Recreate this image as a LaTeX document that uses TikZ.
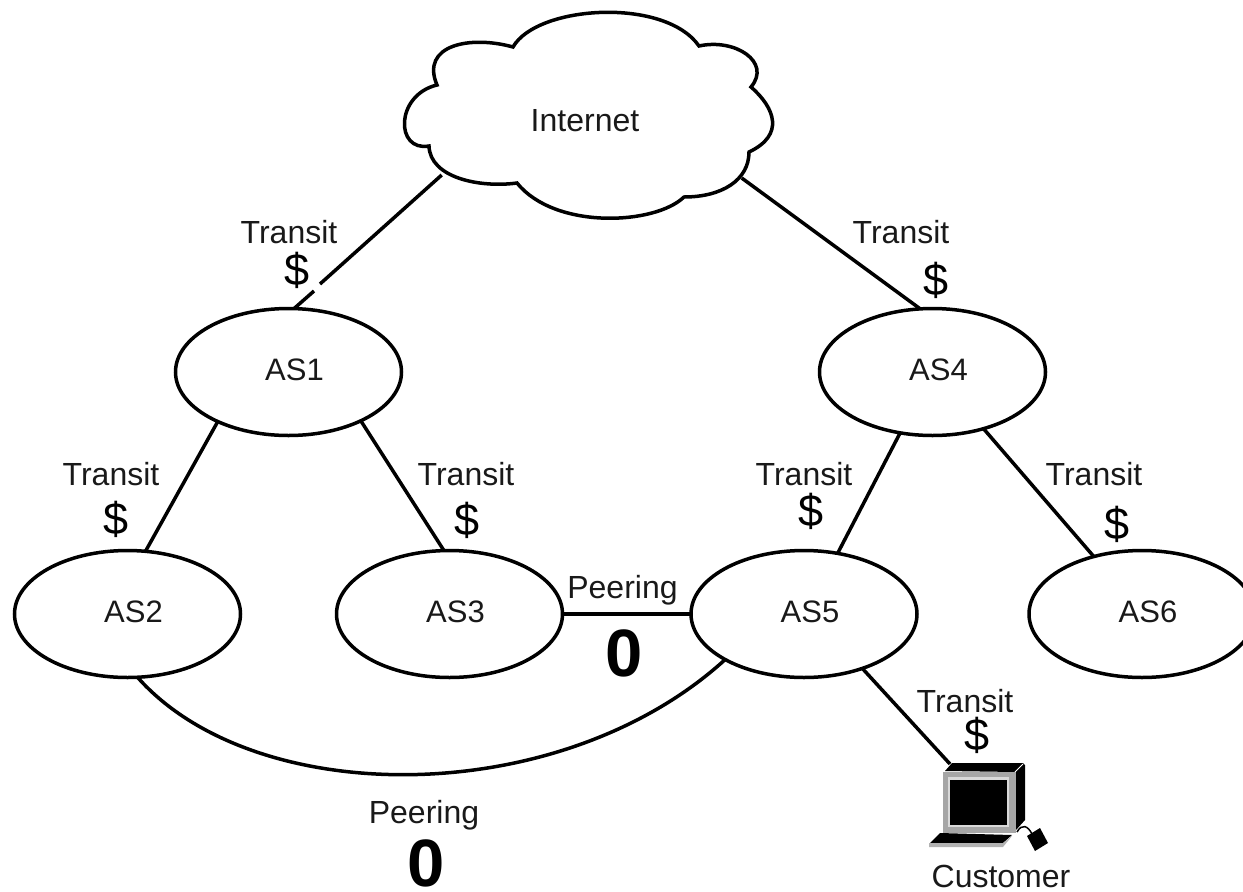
\documentclass[tikz,border=0pt]{standalone}
\usepackage{fontspec}
\setmainfont{Liberation Sans}
\usetikzlibrary{shapes.geometric}
\newcommand{\aslabel}[1]{\hspace*{12pt}\raisebox{2.5pt}[22pt][0pt]{#1}}
\tikzset{
  asnode/.style={ellipse,draw=black,line width=3.5pt,fill=white,minimum width=226pt,minimum height=127pt,inner sep=0pt,outer sep=0pt,text=black!90,font=\fontsize{31}{36}\selectfont},
  link/.style={draw=black,line width=3.5pt},
  lbl/.style={anchor=base,inner sep=0pt,text=black!90,font=\fontsize{32}{36}\selectfont},
  money/.style={anchor=base,inner sep=0pt,font=\fontsize{45}{50}\selectfont},
  zero/.style={anchor=base,inner sep=0pt,font=\fontsize{67}{72}\selectfont\bfseries},
}
\begin{document}
\begin{tikzpicture}[x=1pt,y=-1pt]
\useasboundingbox (0,0) rectangle (1243,892);
% cloud
\draw[line width=3.5pt,line join=miter,fill=white]
 (513,47) .. controls (537,5) and (665,-3) .. (699,46)
 .. controls (735,38) and (772,62) .. (751,87)
 .. controls (775,108) and (785,135) .. (749,152)
 .. controls (749,180) and (722,197) .. (684,197)
 .. controls (655,225) and (555,230) .. (517,183)
 .. controls (480,188) and (430,178) .. (429,146)
 .. controls (395,152) and (395,95) .. (437,85)
 .. controls (420,45) and (470,35) .. (513,47) -- cycle;
\node[lbl] (inet) at (585,131) {Internet};
\coordinate (cloudL) at (441.7,175);
\coordinate (cloudR) at (741.7,178);
\coordinate (gapA) at (320,284);
\coordinate (gapB) at (314,291);
% AS nodes
\node[asnode] (as1) at (288.5,372) {\aslabel{AS1}};
\node[asnode] (as4) at (932.5,372) {\aslabel{AS4}};
\node[asnode] (as2) at (127.5,614) {\aslabel{AS2}};
\node[asnode] (as3) at (449.5,614) {\aslabel{AS3}};
\node[asnode] (as5) at (804,614) {\aslabel{AS5}};
\node[asnode] (as6) at (1142,614) {\aslabel{AS6}};
% connectors
\draw[link] (cloudL) -- (gapA);
\draw[link] (gapB) -- (as1.85);
\draw[link] (cloudR) -- (as4.101);
\draw[link] (as1.215) -- (as2.74);
\draw[link] (as1.-34.4) -- (as3.95.4);
\draw[link] (as4.242.4) -- (as5.61.6);
\draw[link] (as4.-48.7) -- (as6.130.8);
\draw[link] (as3.east) -- (as5.west);
\coordinate (pc) at (950,764);
\draw[link] (as5.-43.5) -- (pc);
\draw[link] (as2.-81) .. controls (255,810) and (560,810) .. (as5.210);
% labels
\node[lbl] (t1) at (289,243) {Transit};
\node[money] (d1) at (297,285) {\$};
\node[lbl] (t2) at (901,243) {Transit};
\node[money] (d2) at (936,295) {\$};
\node[lbl] (t3) at (111,485) {Transit};
\node[money] (d3) at (116,534) {\$};
\node[lbl] (t4) at (466,485) {Transit};
\node[money] (d4) at (467,535) {\$};
\node[lbl] (t5) at (804,485) {Transit};
\node[money] (d5) at (811.5,526) {\$};
\node[lbl] (t6) at (1094,485) {Transit};
\node[money] (d6) at (1117,539) {\$};
\node[lbl] (t7) at (965,712) {Transit};
\node[money] (d7) at (977,750) {\$};
\node[lbl] (p1) at (622.5,598) {Peering};
\node[zero] (z1) at (624.5,676) {0};
\node[lbl] (p2) at (424,823) {Peering};
\node[zero] (z2) at (426,886) {0};
\node[lbl] (cust) at (1001,887) {Customer};
% computer
\fill[black] (945,771) -- (952,763) -- (1023,763) -- (1025,765) -- (1025,820) -- (1016,830) -- (1016,772) -- cycle;
\draw[white,line width=1pt] (1015,772) -- (1023,764);
\fill[black!35] (943,772) rectangle (1016,833);
\fill[white!85!black] (948,777) rectangle (1009,827);
\fill[black] (950,780) rectangle (1007,825);
\fill[black] (930,843) -- (940,833) -- (1012,835) -- (1003,843) -- cycle;
\fill[black!30] (929,843) -- (1003,843) -- (1012,836) -- (1003,847) -- (929,847) -- cycle;
\fill[black] (1027,836) -- (1040,828) -- (1048,843) -- (1035,851) -- cycle;
\draw[black,line width=1.5pt] (1017,832) .. controls (1022,823) and (1028,826) .. (1032,834);
\end{tikzpicture}
\end{document}
